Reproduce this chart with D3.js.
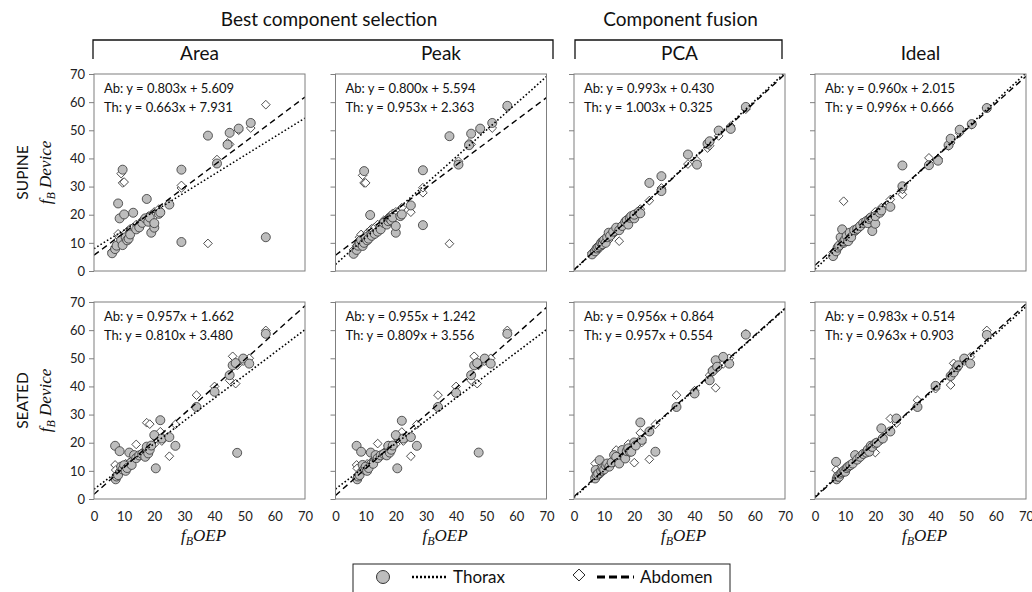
<!DOCTYPE html>
<html lang="en">
<head>
<meta charset="UTF-8">
<title>fB Device vs fB OEP</title>
<script src="https://cdn.jsdelivr.net/npm/d3@7"></script>
<style>
  body { margin: 0; background: #fff; font-family: Lato, "Open Sans", sans-serif; }
  svg { display: block; }
  .frame { fill: none; stroke: #7f7f7f; stroke-width: 1; }
  .axis .domain { display: none; }
  .axis line { stroke: #7f7f7f; }
  .axis text { font-family: Lato, sans-serif; font-size: 13px; fill: #222; }
  .eq { font-size: 13px; fill: #111; }
  .title { font-size: 19px; fill: #111; }
  .math { font-family: "Liberation Serif", "DejaVu Serif", serif; font-style: italic; fill: #111; }
</style>
</head>
<body>
<svg width="1032" height="592"></svg>
<script>
// ---- data ----
const groupNames = ["Best component selection", "Component fusion"];
const methods = ["Area", "Peak", "PCA", "Ideal"];
const postures = ["SUPINE", "SEATED"];
const ticks = [0, 10, 20, 30, 40, 50, 60, 70];

// OEP reference breathing rate per trial
const supineOEP = [6.0, 7.0, 7.5, 8.0, 8.5, 9.0, 9.5, 9.5, 10.0, 10.5, 11.0, 11.5, 12.0, 13.0, 14.0, 15.0, 16.0, 17.0,
  17.5, 18.0, 18.5, 19.0, 20.0, 20.0, 21.5, 22.0, 25.0, 29.0, 29.0, 37.8, 40.8, 44.3, 45.0, 48.0, 52.0, 57.0];
const seatedOEP = [7.0, 7.2, 7.5, 8.0, 8.5, 9.0, 9.5, 10.0, 10.5, 11.0, 11.7, 12.5, 13.3, 14.0, 15.0, 16.0, 17.0, 17.5,
  18.0, 18.5, 19.0, 20.0, 20.5, 22.0, 22.5, 25.0, 27.0, 34.0, 40.0, 45.0, 46.0, 47.0, 47.5, 49.5, 51.5, 57.0];

// device rate, thorax
const areaSupTh = [6.3, 7.8, 9.0, 24.0, 18.7, 11.0, 36.0, 9.2, 20.1, 12.0, 10.9, 11.5, 13.0, 20.7, 14.8, 15.5, 17.1, 18.7,
  25.6, 17.5, 19.0, 13.6, 15.4, 17.0, 20.3, 20.8, 23.6, 10.3, 36.0, 48.1, 38.2, 44.9, 49.1, 50.6, 52.6, 12.0];
const peakSupTh = [6.1, 7.5, 9.0, 10.0, 11.0, 8.9, 35.5, 10.0, 12.0, 10.9, 11.5, 19.9, 12.5, 13.2, 14.0, 14.8, 17.1, 16.5,
  17.7, 18.7, 18.0, 19.0, 13.6, 16.0, 19.5, 20.1, 23.3, 16.3, 35.8, 47.9, 37.8, 44.7, 48.8, 50.6, 52.6, 58.7];
const pcaSupTh = [5.9, 7.0, 8.0, 8.5, 9.0, 10.0, 10.5, 9.5, 11.0, 10.0, 12.0, 13.6, 12.5, 14.0, 15.4, 14.5, 16.0, 17.5,
  18.0, 16.5, 18.9, 19.5, 18.7, 20.0, 21.0, 20.5, 31.3, 28.4, 33.7, 41.4, 37.8, 45.2, 46.1, 49.9, 50.5, 58.3];
const idealSupTh = [5.3, 7.0, 8.3, 9.0, 12.0, 14.8, 10.0, 10.5, 11.2, 12.5, 10.6, 13.6, 12.0, 14.5, 15.0, 16.0, 17.1, 17.7,
  17.0, 18.5, 19.0, 14.2, 16.8, 19.5, 20.7, 21.5, 22.8, 30.1, 37.5, 37.6, 39.2, 44.7, 47.0, 50.2, 52.2, 57.9];
const areaSeaTh = [18.9, 7.0, 8.0, 8.5, 17.0, 11.5, 10.5, 12.0, 10.0, 11.0, 16.5, 12.1, 15.6, 14.5, 15.5, 16.0, 15.0, 18.6,
  16.2, 17.5, 19.0, 22.7, 10.9, 28.0, 21.5, 22.0, 18.9, 32.7, 38.1, 44.0, 47.5, 48.3, 16.4, 49.9, 48.1, 58.7];
const peakSeaTh = [18.9, 7.0, 8.0, 8.5, 16.8, 12.1, 10.5, 11.5, 10.0, 11.0, 16.5, 12.5, 15.6, 14.5, 15.5, 16.0, 15.5, 18.9,
  16.5, 17.5, 19.0, 22.7, 10.9, 27.8, 21.5, 22.0, 18.9, 32.7, 37.7, 44.0, 47.5, 48.3, 16.5, 49.9, 48.1, 58.7];
const pcaSeaTh = [7.3, 10.3, 8.5, 9.0, 13.8, 10.0, 11.0, 10.5, 12.0, 12.6, 11.5, 13.0, 15.6, 15.0, 12.6, 17.4, 14.4, 17.0,
  18.0, 16.8, 16.8, 20.1, 19.0, 27.2, 21.0, 24.0, 16.8, 32.7, 37.5, 42.2, 45.5, 49.3, 47.0, 50.5, 48.1, 58.4];
const idealSeaTh = [13.2, 7.0, 8.0, 7.9, 9.0, 9.5, 10.0, 9.7, 11.0, 11.5, 12.0, 12.6, 15.6, 14.0, 15.0, 16.0, 16.5, 17.5,
  16.8, 18.9, 18.5, 19.7, 20.0, 25.1, 21.5, 24.0, 28.6, 32.7, 40.2, 43.7, 45.0, 46.9, 47.5, 49.9, 48.1, 58.3];

// device rate, abdomen
const areaSupAb = [7.0, 8.5, 10.5, 13.2, 12.0, 34.6, 31.3, 11.5, 31.6, 13.5, 12.5, 14.5, 15.0, 15.5, 16.5, 16.0, 18.0, 18.0,
  19.0, 19.5, 18.5, 20.0, 21.0, 19.5, 22.0, 21.3, 23.9, 29.5, 30.4, 9.8, 39.6, 45.5, 45.0, 50.0, 50.8, 59.1];
const peakSupAb = [7.5, 9.0, 10.5, 12.0, 13.0, 34.0, 31.3, 11.0, 31.3, 13.5, 13.0, 14.5, 15.0, 15.5, 16.5, 16.0, 18.0, 18.5,
  19.0, 19.5, 19.0, 20.5, 21.0, 20.0, 21.5, 22.5, 20.9, 27.8, 29.6, 9.7, 39.0, 45.5, 45.0, 50.0, 50.8, 58.0];
const pcaSupAb = [6.5, 7.5, 7.0, 8.5, 8.0, 9.5, 9.0, 10.0, 10.5, 11.0, 11.5, 11.0, 12.5, 13.0, 14.0, 10.6, 16.5, 17.0,
  17.5, 18.5, 18.5, 19.5, 19.5, 20.1, 21.5, 22.0, 25.0, 29.0, 29.5, 38.0, 39.2, 43.7, 44.5, 48.0, 51.5, 57.5];
const idealSupAb = [6.5, 7.5, 8.0, 8.5, 9.0, 9.5, 24.8, 10.0, 10.5, 11.0, 11.5, 12.0, 12.5, 13.5, 14.5, 15.5, 16.5, 17.5,
  18.0, 18.5, 19.0, 19.5, 20.5, 21.0, 21.5, 22.5, 25.4, 27.2, 29.0, 40.2, 40.0, 44.4, 45.5, 49.0, 52.0, 58.0];
const areaSeaAb = [12.1, 10.3, 8.0, 9.0, 10.0, 10.5, 11.0, 11.5, 12.5, 12.0, 13.0, 13.5, 14.5, 19.4, 15.5, 16.5, 17.0, 27.1,
  18.0, 26.6, 18.5, 19.5, 21.5, 23.9, 20.6, 15.2, 26.5, 36.9, 40.0, 42.2, 50.7, 41.0, 47.5, 49.0, 50.0, 59.9];
const peakSeaAb = [12.1, 10.9, 8.0, 9.0, 10.0, 10.5, 11.0, 11.5, 12.5, 12.0, 13.0, 13.5, 14.5, 19.7, 15.5, 16.5, 17.0, 19.0,
  18.0, 18.2, 18.5, 19.5, 21.5, 23.8, 20.6, 15.2, 26.5, 36.9, 40.0, 42.2, 50.7, 41.0, 47.5, 49.0, 50.0, 59.9];
const pcaSeaAb = [12.6, 8.0, 7.5, 8.5, 9.5, 9.0, 10.0, 10.5, 11.0, 11.5, 12.0, 12.5, 13.0, 17.4, 15.0, 15.5, 16.5, 17.0,
  19.5, 18.0, 18.5, 12.9, 19.5, 23.5, 20.1, 14.1, 26.5, 36.9, 38.5, 44.0, 46.0, 39.5, 46.5, 48.0, 50.0, 58.7];
const idealSeaAb = [10.3, 7.5, 8.0, 8.5, 9.0, 9.5, 10.0, 10.5, 11.0, 11.5, 12.0, 12.5, 13.5, 14.0, 15.0, 16.0, 17.0, 17.5,
  18.0, 18.5, 19.0, 16.5, 20.0, 20.9, 22.0, 28.6, 27.0, 35.1, 39.2, 40.5, 48.2, 46.0, 47.0, 49.0, 50.5, 59.9];

// linear fits, panel order: supine Area/Peak/PCA/Ideal, seated Area/Peak/PCA/Ideal
const abSlope = [0.803, 0.800, 0.993, 0.960, 0.957, 0.955, 0.956, 0.983];
const abIntercept = [5.609, 5.594, 0.430, 2.015, 1.662, 1.242, 0.864, 0.514];
const thSlope = [0.663, 0.953, 1.003, 0.996, 0.810, 0.809, 0.957, 0.963];
const thIntercept = [7.931, 2.363, 0.325, 0.666, 3.480, 3.556, 0.554, 0.903];

const thoraxY = [areaSupTh, peakSupTh, pcaSupTh, idealSupTh, areaSeaTh, peakSeaTh, pcaSeaTh, idealSeaTh];
const abdomenY = [areaSupAb, peakSupAb, pcaSupAb, idealSupAb, areaSeaAb, peakSeaAb, pcaSeaAb, idealSeaAb];

// ---- layout ----
const svg = d3.select("svg");
const panelLeft = [94, 335.5, 574, 815];
const panelTop = [74, 302];
const W = 211, H = 197;

const x = d3.scaleLinear().domain([0, 70]).range([0, W]);
const y = d3.scaleLinear().domain([0, 70]).range([H, 0]);

const diamond = d3.symbol().type(d3.symbolDiamond2 || d3.symbolDiamond).size(48);
const fmt = d3.format(".3f");

// group brackets
const brackets = [[93, 553], [575, 782]];
brackets.forEach(([a, b], i) => {
  svg.append("path")
    .attr("d", `M${a},59V40H${b}V59`)
    .attr("fill", "none").attr("stroke", "#111").attr("stroke-width", 1.3);
  svg.append("text").attr("class", "title")
    .attr("x", (a + b) / 2 + (i === 0 ? 6 : 2)).attr("y", 26)
    .attr("text-anchor", "middle").text(groupNames[i]);
});

methods.forEach((m, c) => {
  svg.append("text").attr("class", "title")
    .attr("x", panelLeft[c] + W / 2).attr("y", 60)
    .attr("text-anchor", "middle").text(m);
});

function fbLabel(g, tx, ty, word, rotate) {
  const t = g.append("text").attr("class", "math")
    .attr("font-size", 17).attr("text-anchor", "middle")
    .attr("transform", `translate(${tx},${ty})` + (rotate ? " rotate(-90)" : ""));
  t.append("tspan").text("f");
  t.append("tspan").attr("font-size", 12).attr("dy", 4).text("B");
  t.append("tspan").attr("dy", -4).text(word);
}

postures.forEach((p, r) => {
  const cy = panelTop[r] + H / 2;
  svg.append("text")
    .attr("transform", `translate(28,${cy}) rotate(-90)`)
    .attr("text-anchor", "middle").attr("font-size", 15.5).attr("fill", "#111")
    .text(p);
  fbLabel(svg, 51, cy, " Device", true);
});

methods.forEach((m, c) => fbLabel(svg, panelLeft[c] + W / 2 + 4, 541, "OEP", false));

d3.range(8).forEach(i => {
  const r = Math.floor(i / 4), c = i % 4;
  const oep = r === 0 ? supineOEP : seatedOEP;
  const g = svg.append("g").attr("transform", `translate(${panelLeft[c]},${panelTop[r]})`);

  g.append("clipPath").attr("id", "clip" + i)
    .append("rect").attr("width", W).attr("height", H);

  const yAxis = d3.axisLeft(y).tickValues(ticks).tickSize(5).tickPadding(4)
    .tickFormat(c === 0 ? d3.format("d") : () => "");
  g.append("g").attr("class", "axis").call(yAxis);

  if (r === 1) {
    const xAxis = d3.axisBottom(x).tickValues(ticks).tickSize(0).tickPadding(13);
    g.append("g").attr("class", "axis").attr("transform", `translate(0,${H})`).call(xAxis);
  }

  const pts = g.append("g").attr("clip-path", `url(#clip${i})`);

  pts.selectAll(".ab").data(abdomenY[i]).join("path")
    .attr("class", "ab")
    .attr("d", diamond)
    .attr("transform", (d, k) => `translate(${x(oep[k])},${y(d)})`)
    .attr("fill", "#fff").attr("stroke", "#222").attr("stroke-width", 0.8);

  pts.selectAll(".th").data(thoraxY[i]).join("circle")
    .attr("class", "th")
    .attr("cx", (d, k) => x(oep[k])).attr("cy", d => y(d)).attr("r", 4.5)
    .attr("fill", "#bdbdbd").attr("stroke", "#333").attr("stroke-width", 0.8);

  const fit = (s, b) => d3.line()(d3.range(0, 71, 70).map(v => [x(v), y(s * v + b)]));
  pts.append("path").attr("d", fit(thSlope[i], thIntercept[i]))
    .attr("fill", "none").attr("stroke", "#000").attr("stroke-width", 1.6)
    .attr("stroke-dasharray", "1.6,2.2");
  pts.append("path").attr("d", fit(abSlope[i], abIntercept[i]))
    .attr("fill", "none").attr("stroke", "#000").attr("stroke-width", 1.4)
    .attr("stroke-dasharray", "6,4");

  g.append("rect").attr("class", "frame").attr("width", W).attr("height", H);

  g.append("text").attr("class", "eq").attr("x", 10).attr("y", 19)
    .text(`Ab: y = ${fmt(abSlope[i])}x + ${fmt(abIntercept[i])}`);
  g.append("text").attr("class", "eq").attr("x", 10).attr("y", 38)
    .text(`Th: y = ${fmt(thSlope[i])}x + ${fmt(thIntercept[i])}`);
});

// legend
const lg = svg.append("g").attr("transform", "translate(353,564)");
lg.append("rect").attr("width", 377).attr("height", 40)
  .attr("fill", "#fff").attr("stroke", "#222").attr("stroke-width", 1);
lg.append("circle").attr("cx", 30).attr("cy", 13).attr("r", 6.5)
  .attr("fill", "#bdbdbd").attr("stroke", "#333");
lg.append("line").attr("x1", 59).attr("x2", 94).attr("y1", 13).attr("y2", 13)
  .attr("stroke", "#000").attr("stroke-width", 2.6).attr("stroke-dasharray", "2,2");
lg.append("text").attr("x", 100).attr("y", 19).attr("font-size", 17).attr("fill", "#111").text("Thorax");
lg.append("path").attr("d", d3.symbol().type(d3.symbolDiamond2 || d3.symbolDiamond).size(90)())
  .attr("transform", "translate(226,11)")
  .attr("fill", "#fff").attr("stroke", "#222").attr("stroke-width", 1);
lg.append("line").attr("x1", 244).attr("x2", 281).attr("y1", 13).attr("y2", 13)
  .attr("stroke", "#000").attr("stroke-width", 3).attr("stroke-dasharray", "8,4");
lg.append("text").attr("x", 287).attr("y", 19).attr("font-size", 17).attr("fill", "#111").text("Abdomen");
</script>
</body>
</html>
